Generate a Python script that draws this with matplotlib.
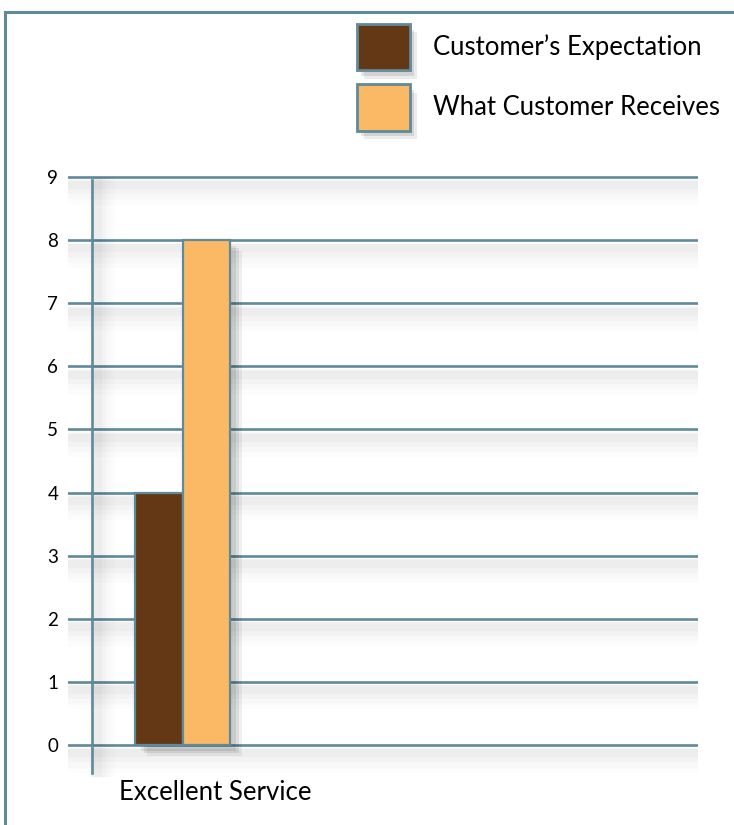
import matplotlib
matplotlib.use('Agg')
import matplotlib.pyplot as plt
import matplotlib.patheffects as pe
from matplotlib.patches import Rectangle
import numpy as np

categories = ['Excellent Service']
seriesNames = ["Customer\u2019s Expectation", 'What Customer Receives']
expectation = [4]
received = [8]
yTicks = [0, 1, 2, 3, 4, 5, 6, 7, 8, 9]

lineColor = '#5e8a9b'
colors = ['#653815', '#fbb965']

plt.rcParams['font.family'] = ['Lato', 'DejaVu Sans']

fig = plt.figure(figsize=(7.34, 8.25), dpi=100)
ax = fig.add_axes([68 / 734, 0.0587, 630 / 734, 0.7306])
ax.set_xlim(-0.847, 3.795)
ax.set_ylim(-0.5, 9.05)
for spine in ax.spines.values():
    spine.set_visible(False)

# soft shadow effect, built from a few faint offset strokes
def soft_shadow(dx, dy):
    effects = []
    for i, a in enumerate([0.025, 0.02, 0.015, 0.01]):
        effects.append(pe.SimpleLineShadow(offset=(dx + i, dy - i * 1.5),
                                           shadow_color='k', alpha=a,
                                           linewidth=6 + i * 4))
    effects.append(pe.Normal())
    return effects

for y in yTicks:
    ax.axhline(y, color=lineColor, linewidth=1.9, zorder=1,
               path_effects=soft_shadow(3, -6))

# vertical axis line
ax.axvline(-0.67, ymin=(-0.44 + 0.5) / 9.55, ymax=(8.95 + 0.5) / 9.55,
           color=lineColor, linewidth=1.9, zorder=1,
           path_effects=soft_shadow(4, -2))

x = np.arange(len(categories))
width = 0.35
bars = []
for i, vals in enumerate([expectation, received]):
    b = ax.bar(x - width / 2 + i * width, vals, width, color=colors[i],
               edgecolor=lineColor, linewidth=1.6, zorder=3,
               label=seriesNames[i])
    for patch in b:
        patch.set_path_effects([
            pe.SimplePatchShadow(offset=(8, -8), shadow_rgbFace='k', alpha=0.06),
            pe.SimplePatchShadow(offset=(6, -6), shadow_rgbFace='k', alpha=0.08),
            pe.SimplePatchShadow(offset=(4, -4), shadow_rgbFace='k', alpha=0.08),
            pe.Normal()])
    bars.append(b)

ax.set_xticks([])
ax.set_yticks(yTicks)
ax.tick_params(axis='y', length=0, pad=7, labelsize=13.5)

for xi, cat in zip(x, categories):
    ax.text(xi + 0.235, -0.76, cat, ha='center', va='center', fontsize=18.5,
            clip_on=False)

leg = fig.legend(handles=[b[0] for b in bars], labels=seriesNames,
                 loc='upper left', bbox_to_anchor=(357 / 734, 1 - 24 / 825),
                 frameon=False, fontsize=18.5, handlelength=2.05,
                 handleheight=2.39, labelspacing=0.55, handletextpad=0.9,
                 borderpad=0, borderaxespad=0)
for h in leg.legend_handles:
    h.set_edgecolor(lineColor)
    h.set_linewidth(2)
    h.set_path_effects([
        pe.SimplePatchShadow(offset=(5, -6), shadow_rgbFace='k', alpha=0.08),
        pe.SimplePatchShadow(offset=(3, -4), shadow_rgbFace='k', alpha=0.1),
        pe.Normal()])

# outer frame
fig.patches.append(Rectangle((5 / 734, -0.1), 1.0, 1.1 - 12 / 825,
                             transform=fig.transFigure, fill=False,
                             edgecolor=lineColor, linewidth=2.2))

fig.savefig('out.png', dpi=100)
